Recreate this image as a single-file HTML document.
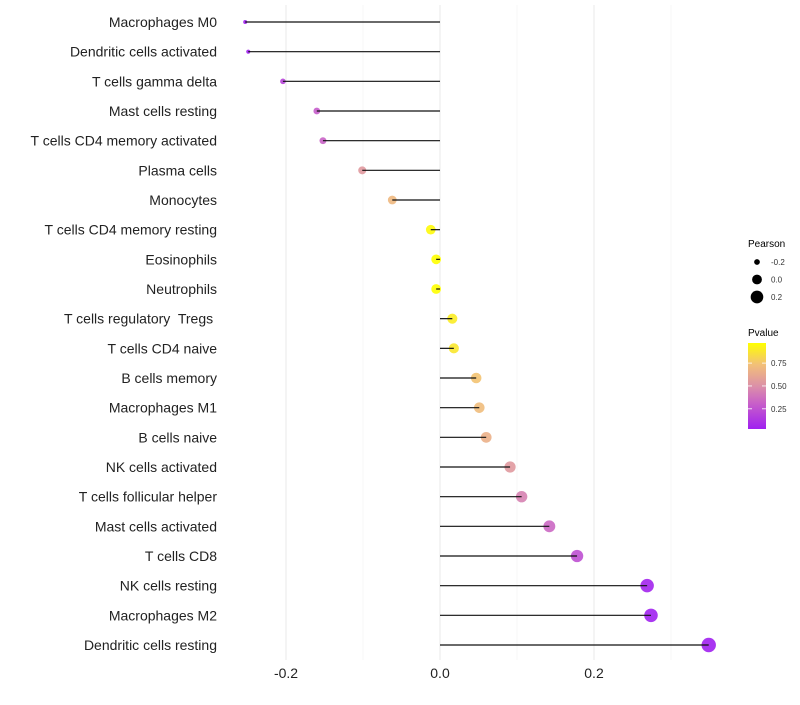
<!DOCTYPE html>
<html><head><meta charset="utf-8"><style>
body{margin:0;background:#fff;}
svg text{font-family:"Liberation Sans",Arial,sans-serif;white-space:pre;}
</style></head><body>
<svg id="chart" width="800" height="700" xmlns="http://www.w3.org/2000/svg">
<defs><linearGradient id="pg" x1="0" y1="1" x2="0" y2="0">
<stop offset="0" stop-color="#A020F0"/><stop offset="0.3" stop-color="#C860C8"/><stop offset="0.5" stop-color="#DC90A8"/><stop offset="0.75" stop-color="#F2C078"/><stop offset="1" stop-color="#FFFF00"/>
</linearGradient></defs>
<g id="grid"></g><g id="marks"></g><g id="labels"></g>
<g>
<text x="748" y="247" font-size="10">Pearson</text>
</g>
<g id="pleg"></g>
<g>
<text x="748" y="336" font-size="10">Pvalue</text>
<rect x="748" y="343" width="18" height="86" fill="url(#pg)"/>
</g>
<g id="cleg"></g>
</svg>
<script>
const categories=["Macrophages M0","Dendritic cells activated","T cells gamma delta","Mast cells resting","T cells CD4 memory activated","Plasma cells","Monocytes","T cells CD4 memory resting","Eosinophils","Neutrophils","T cells regulatory  Tregs ","T cells CD4 naive","B cells memory","Macrophages M1","B cells naive","NK cells activated","T cells follicular helper","Mast cells activated","T cells CD8","NK cells resting","Macrophages M2","Dendritic cells resting"];
const pearson=[-0.253,-0.249,-0.204,-0.160,-0.152,-0.101,-0.062,-0.012,-0.005,-0.005,0.016,0.018,0.047,0.051,0.060,0.091,0.106,0.142,0.178,0.269,0.274,0.349];
const pvalue=[0.03,0.04,0.2,0.3,0.33,0.55,0.7,0.95,0.98,0.98,0.9,0.88,0.75,0.72,0.66,0.55,0.45,0.35,0.25,0.06,0.05,0.03];
const xTicks=[-0.2,0.0,0.2];
const xTickLabels=["-0.2","0.0","0.2"];
const sizeLegend=[-0.2,0.0,0.2];
const colorTicks=[0.25,0.5,0.75];
const NS="http://www.w3.org/2000/svg";
const x=v=>440+v*770;
const y=i=>22+i*(623/21);
const vmin=Math.min(...pearson);
const r=v=>Math.sqrt(4+79.4*Math.max(0,(v-vmin)));
const stops=[[0,[160,32,240]],[0.3,[200,96,200]],[0.5,[220,144,168]],[0.75,[242,192,120]],[1,[255,255,0]]];
function col(p){const t=Math.max(0,Math.min(1,(p-0.04)/(0.97-0.04)));for(let k=1;k<stops.length;k++){if(t<=stops[k][0]){const a=stops[k-1],b=stops[k],f=(t-a[0])/(b[0]-a[0]);return 'rgb('+a[1].map((c,j)=>Math.round(c+(b[1][j]-c)*f)).join(',')+')';}}return 'rgb(255,255,0)';}
const cy=p=>428-(p-0.04)/(0.97-0.04)*85;
function mk(t,a,p){const e=document.createElementNS(NS,t);for(const k in a)e.setAttribute(k,a[k]);(p||document.getElementById('chart')).appendChild(e);return e;}
const grid=document.getElementById('grid'),marks=document.getElementById('marks'),labels=document.getElementById('labels');
[-0.1,0.1,0.3].forEach(v=>{const l=mk('line',{x1:x(v),x2:x(v),y1:5,y2:660,stroke:'#f2f2f2','stroke-width':0.6},grid);

});
xTicks.forEach((v,i)=>{const l=mk('line',{x1:x(v),x2:x(v),y1:5,y2:660,stroke:'#ebebeb','stroke-width':1.1},grid);


const t=mk('text',{x:x(v),y:678,'font-size':14,'text-anchor':'middle',fill:'#222'},labels);t.textContent=xTickLabels[i];

});
categories.forEach((c,i)=>{
const t=mk('text',{x:217,y:y(i)+5,'font-size':14,'text-anchor':'end',fill:'#222'},labels);t.textContent=c;


const pt=mk('circle',{cx:x(pearson[i]),cy:y(i),r:r(pearson[i]),fill:col(pvalue[i]),'fill-opacity':0.9},marks);


const s=mk('line',{x1:x(0),x2:x(pearson[i]),y1:y(i),y2:y(i),stroke:'#111','stroke-width':1.2},marks);

});
const pleg=document.getElementById('pleg');
sizeLegend.forEach((v,i)=>{const yy=262+i*17.5;
const c=mk('circle',{cx:757,cy:yy,r:r(v),fill:'#000'},pleg);


const t=mk('text',{x:771,y:yy+3,'font-size':8,fill:'#333'},pleg);t.textContent=v.toFixed(1);

});
const cleg=document.getElementById('cleg');
colorTicks.forEach(v=>{const yy=cy(v);
mk('line',{x1:748,x2:752,y1:yy,y2:yy,stroke:'#fff','stroke-width':0.8},cleg);
mk('line',{x1:762,x2:766,y1:yy,y2:yy,stroke:'#fff','stroke-width':0.8},cleg);
const t=mk('text',{x:771,y:yy+3,'font-size':8,fill:'#333'},cleg);t.textContent=v.toFixed(2);

});
</script>
</body></html>
